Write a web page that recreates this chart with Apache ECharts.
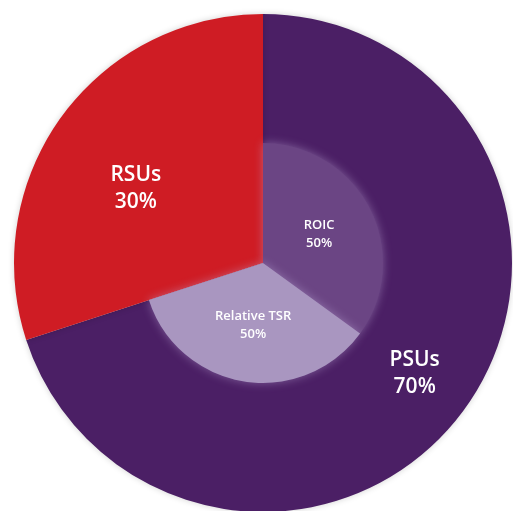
<!DOCTYPE html>
<html>
<head>
<meta charset="utf-8">
<script src="https://cdn.jsdelivr.net/npm/echarts@6/dist/echarts.min.js"></script>
<style>
  html, body { margin: 0; padding: 0; background: #ffffff; }
  #chart { width: 513px; height: 511px; }
</style>
</head>
<body>
<div id="chart"></div>
<script>
// Long-term incentive award mix
const awardNames = ['PSUs', 'RSUs'];
const awardShares = [70, 30];

// PSU performance metrics (share of the PSU award)
const metricNames = ['ROIC', 'Relative TSR'];
const metricShares = [50, 50];

const awardColors = ['#4b1f65', '#cf1c24'];
const metricColors = ['#6b4584', '#a996c0'];

const center = [263, 263];
const outerR = 249;
const innerR = 120;
const FONT = '"Open Sans", "Noto Sans", sans-serif';

// PSU metrics are drawn inside the PSU wedge, scaled to the total award
const psuTotal = awardShares[0];
const metricData = metricNames.map((n, i) => ({
  name: n,
  value: psuTotal * metricShares[i] / 100,
  pct: metricShares[i],
  itemStyle: { color: metricColors[i] }
}));
// the remaining sweep (RSUs) stays empty so the red wedge shows through
metricData.push({
  name: '',
  value: awardShares[1],
  itemStyle: { color: 'rgba(0,0,0,0)' },
  label: { show: false },
  emphasis: { disabled: true }
});

const bigLabel = {
  color: '#ffffff',
  fontFamily: FONT,
  fontSize: 21,
  fontWeight: 600,
  lineHeight: 27,
  formatter: p => p.name + '\n' + p.value + '%'
};

const chart = echarts.init(document.getElementById('chart'), null, { renderer: 'canvas' });
chart.setOption({
  animation: false,
  backgroundColor: '#ffffff',
  series: [
    {
      name: 'Award mix',
      type: 'pie',
      center: center,
      radius: [0, outerR],
      startAngle: 90,
      clockwise: true,
      silent: true,
      labelLine: { show: false },
      itemStyle: {
        borderWidth: 0,
        shadowBlur: 6,
        shadowColor: 'rgba(0,0,0,0.18)'
      },
      label: Object.assign({ show: true, position: 'inside' }, bigLabel),
      data: awardNames.map((n, i) => ({
        name: n,
        value: awardShares[i],
        itemStyle: { color: awardColors[i] },
        label: i === 1
          ? { show: true, padding: [0, 48, 4, 0] }
          : { show: false }
      }))
    },
    {
      name: 'PSU metrics',
      type: 'pie',
      center: center,
      radius: [0, innerR],
      startAngle: 90,
      clockwise: true,
      silent: true,
      labelLine: { show: false },
      itemStyle: {
        borderWidth: 0,
        shadowBlur: 10,
        shadowColor: 'rgba(190,170,215,0.45)'
      },
      label: {
        show: true,
        position: 'inside',
        color: '#ffffff',
        fontFamily: FONT,
        fontSize: 13,
        fontWeight: 600,
        lineHeight: 18,
        formatter: p => p.name + '\n' + p.data.pct + '%'
      },
      data: metricData
    },
    {
      // label ring for the PSU wedge
      name: 'Award labels',
      type: 'pie',
      center: center,
      radius: [innerR, outerR],
      startAngle: 90,
      clockwise: true,
      silent: true,
      labelLine: { show: false },
      itemStyle: { color: 'rgba(0,0,0,0)', borderWidth: 0 },
      label: Object.assign({ show: true, position: 'inside' }, bigLabel),
      data: awardNames.map((n, i) => ({
        name: n,
        value: awardShares[i],
        label: { show: i === 0 }
      }))
    }
  ]
});
</script>
</body>
</html>
